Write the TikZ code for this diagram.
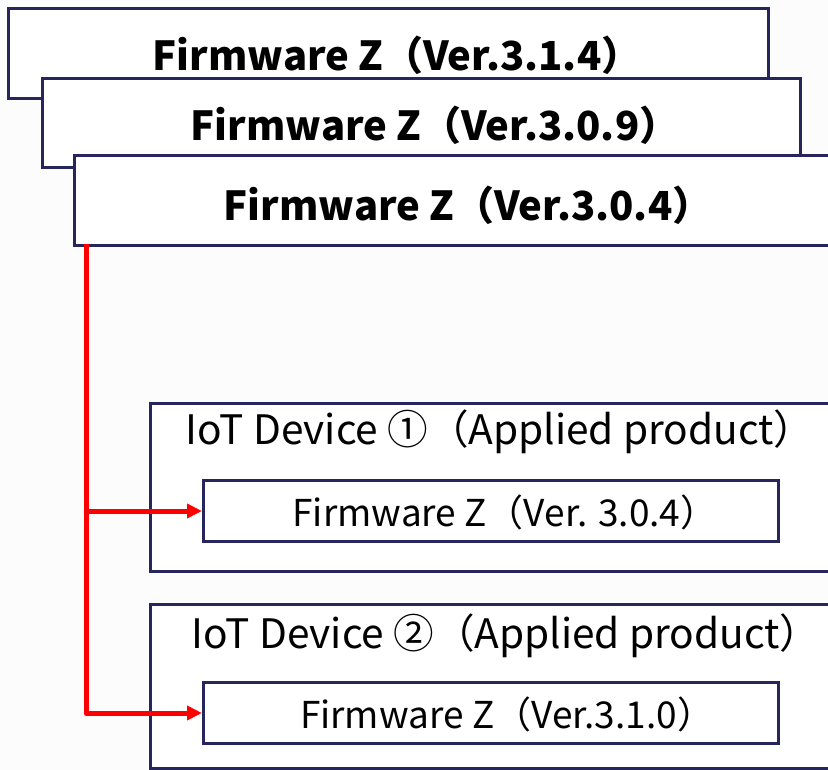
\documentclass[tikz,border=0pt]{standalone}
\usepackage{fontspec}
\setmainfont{Noto Sans CJK JP}
\usetikzlibrary{arrows.meta}
\definecolor{navy}{RGB}{38,38,92}
\definecolor{bg}{RGB}{252,252,253}
\tikzset{
  fwbox/.style={draw=navy, line width=3pt, fill=white, anchor=north west, inner sep=0pt},
  bigtxt/.style={font=\fontsize{40}{44}\selectfont\bfseries},
  devtxt/.style={font=\fontsize{40.6}{44}\selectfont},
  innertxt/.style={font=\fontsize{37}{40}\selectfont},
  redline/.style={draw=red, line width=5pt, line join=round},
  redarrow/.style={redline, -{Triangle[length=15pt,width=14pt]}}
}
\begin{document}
\begin{tikzpicture}[x=1pt,y=-1pt]
\fill[bg] (0,0) rectangle (828,770);
\useasboundingbox (0,0) rectangle (828,770);
\clip (0,0) rectangle (828,770);
\node[fwbox, minimum width=760pt, minimum height=90pt] (v314) at (7,7) {};
\node[bigtxt] (t314) at (397,55) {Firmware Z（Ver.3.1.4）};
\node[fwbox, minimum width=758pt, minimum height=89pt] (v309) at (41,77) {};
\node[bigtxt] (t309) at (435,125) {Firmware Z（Ver.3.0.9）};
\node[fwbox, minimum width=770pt, minimum height=90pt] (v304) at (73,154) {};
\node[bigtxt] (t304) at (468,205) {Firmware Z（Ver.3.0.4）};
% devices
\node[fwbox, minimum width=682pt, minimum height=168pt] (dev1) at (149,402) {};
\node[devtxt] (d1lab) at (500,432) {IoT Device ①（Applied product）};
\node[fwbox, minimum width=575pt, minimum height=61pt] (in1) at (202,479) {};
\node[innertxt] (in1t) at (505,512) {Firmware Z（Ver. 3.0.4）};
\node[fwbox, minimum width=682pt, minimum height=164pt] (dev2) at (149,603) {};
\node[devtxt] (d2lab) at (506,636) {IoT Device ②（Applied product）};
\node[fwbox, minimum width=575pt, minimum height=61pt] (in2) at (202,681) {};
\node[innertxt] (in2t) at (507,714) {Firmware Z（Ver.3.1.0）};
% connectors
\coordinate (src) at (86,244);
\draw[redarrow] (src) |- (in2.west);
\draw[redarrow] (src |- in1.west) -- (in1.west);
\end{tikzpicture}
\end{document}
